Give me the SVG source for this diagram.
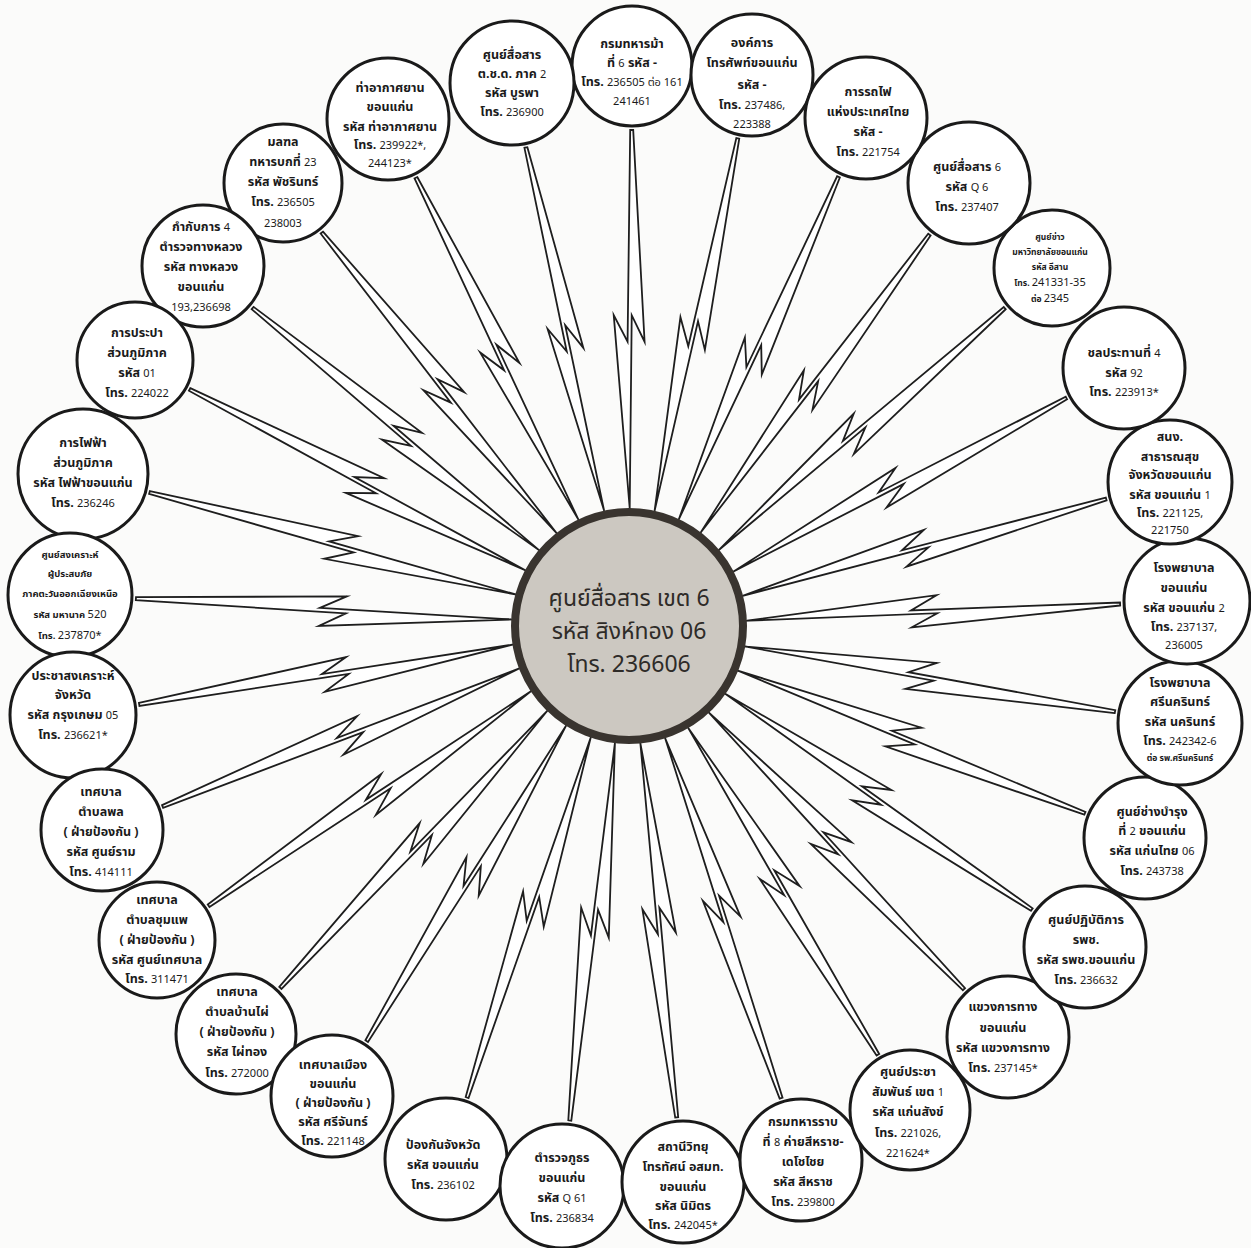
<svg xmlns="http://www.w3.org/2000/svg" xmlns:xlink="http://www.w3.org/1999/xlink" width="1251" height="1248" viewBox="0 0 1251 1248">
<style>
.bg{fill:#fbfbfa}
.bolt{fill:#fff;stroke:#1e1e1e;stroke-width:1.8;stroke-linejoin:miter;stroke-miterlimit:30;vector-effect:non-scaling-stroke}
.node circle{fill:#fff;stroke:#1a1a1a;stroke-width:3}
text{font-family:"Noto Sans Thai","Tlwg Typo","Loma","Garuda","DejaVu Sans","Noto Sans",sans-serif;font-size:12.5px;font-weight:bold;text-anchor:middle;fill:#1a1a1a}
.n{font-size:11px;font-weight:normal}
.s{font-size:9.5px}
.xs{font-size:8.5px}
.hub circle{fill:#ccc8c1;stroke:#39342f;stroke-width:8}
.hub text{font-size:23px;font-weight:normal;fill:#2e2b28}
</style>
<defs>
<path id="bolt" class="bolt" d="M0,-1.5 L0.56,-14 L0.49,-1 L1,0 L0.49,17 L0.56,3 L0,1.5 Z"/>
</defs>
<rect class="bg" x="0" y="0" width="1251" height="1248"/>
<g id="connectors">
<use xlink:href="#bolt" transform="matrix(-2 378 -1 -0.005 631.7 130)"/>
<use xlink:href="#bolt" transform="matrix(-83.2 372.4 -0.9759 -0.2179 737.8 138.4)"/>
<use xlink:href="#bolt" transform="matrix(78.2 363.1 -0.9775 0.2106 525.9 147.5)"/>
<use xlink:href="#bolt" transform="matrix(162.4 341.7 -0.9031 0.4293 415.9 177.7)"/>
<use xlink:href="#bolt" transform="matrix(234.6 300.3 -0.7881 0.6155 321.8 232.6)"/>
<use xlink:href="#bolt" transform="matrix(286.2 241.9 -0.6455 0.7638 252.6 308)"/>
<use xlink:href="#bolt" transform="matrix(335.5 180.7 -0.4741 0.8804 189.6 389.4)"/>
<use xlink:href="#bolt" transform="matrix(365.9 101.9 -0.2682 0.9633 149.5 492.5)"/>
<use xlink:href="#bolt" transform="matrix(375.3 20.8 -0.0554 0.9984 135.9 598.7)"/>
<use xlink:href="#bolt" transform="matrix(373.3 -59.8 0.1581 0.9874 139.2 704.4)"/>
<use xlink:href="#bolt" transform="matrix(356.3 -137.9 0.361 0.9326 162.6 806.5)"/>
<use xlink:href="#bolt" transform="matrix(322.1 -214.3 0.5539 0.8326 208.6 905.7)"/>
<use xlink:href="#bolt" transform="matrix(266.7 -276.9 0.7202 0.6937 280.4 987.9)"/>
<use xlink:href="#bolt" transform="matrix(199.3 -315.3 0.8453 0.5342 366.7 1041.1)"/>
<use xlink:href="#bolt" transform="matrix(123.6 -359.9 0.9459 0.3248 467.1 1097.5)"/>
<use xlink:href="#bolt" transform="matrix(45.1 -377.3 0.9929 0.1188 569.8 1120.5)"/>
<use xlink:href="#bolt" transform="matrix(-36.3 -373.8 0.9953 -0.0967 676.7 1117.3)"/>
<use xlink:href="#bolt" transform="matrix(-115.9 -359.8 0.9519 -0.3066 781.1 1098.1)"/>
<use xlink:href="#bolt" transform="matrix(-189.6 -326.6 0.8648 -0.5021 877.9 1054.7)"/>
<use xlink:href="#bolt" transform="matrix(-255 -276.5 0.7351 -0.6779 963.9 989.2)"/>
<use xlink:href="#bolt" transform="matrix(-306.4 -215.7 0.5756 -0.8177 1031.8 909.6)"/>
<use xlink:href="#bolt" transform="matrix(-346.7 -142.5 0.38 -0.9249 1084.9 813.3)"/>
<use xlink:href="#bolt" transform="matrix(-369.8 -65.1 0.1734 -0.9848 1115 711.6)"/>
<use xlink:href="#bolt" transform="matrix(-373.2 16.7 -0.0448 -0.9989 1120.1 604)"/>
<use xlink:href="#bolt" transform="matrix(-363.2 96.7 -0.2572 -0.9664 1106.2 499)"/>
<use xlink:href="#bolt" transform="matrix(-332.7 173.4 -0.4622 -0.8868 1066.4 398)"/>
<use xlink:href="#bolt" transform="matrix(-285.6 241.7 -0.646 -0.7633 1004.7 308.1)"/>
<use xlink:href="#bolt" transform="matrix(-228.6 297.8 -0.7933 -0.6089 929.4 234.6)"/>
<use xlink:href="#bolt" transform="matrix(-159.6 342.2 -0.9062 -0.4228 838.5 176.9)"/>
</g>

<g id="hub" class="hub">
<circle cx="629" cy="626" r="114"/>
<text x="629" y="606">ศูนย์สื่อสาร เขต 6</text>
<text x="629" y="639">รหัส สิงห์ทอง 06</text>
<text x="629" y="672">โทร. 236606</text>
</g>

<g id="n01" class="node"><circle cx="632" cy="66" r="60"/>
<text x="632" y="48">กรมทหารม้า</text>
<text x="632" y="67">ที่ <tspan class="n">6</tspan>  รหัส -</text>
<text x="632" y="86">โทร. <tspan class="n">236505 ต่อ 161</tspan></text>
<text x="632" y="105" class="n">241461</text></g>

<g id="n02" class="node"><circle cx="752" cy="75" r="61"/>
<text x="752" y="47">องค์การ</text>
<text x="752" y="67">โทรศัพท์ขอนแก่น</text>
<text x="752" y="89">รหัส -</text>
<text x="752" y="109">โทร. <tspan class="n">237486,</tspan></text>
<text x="752" y="128" class="n">223388</text></g>

<g id="n03" class="node"><circle cx="512" cy="83" r="62"/>
<text x="512" y="59">ศูนย์สื่อสาร</text>
<text x="512" y="78">ต.ช.ด. ภาค <tspan class="n">2</tspan></text>
<text x="512" y="97">รหัส บูรพา</text>
<text x="512" y="116">โทร. <tspan class="n">236900</tspan></text></g>

<g id="n04" class="node"><circle cx="388" cy="119" r="61"/>
<text x="390" y="92">ท่าอากาศยาน</text>
<text x="390" y="111">ขอนแก่น</text>
<text x="390" y="131">รหัส ท่าอากาศยาน</text>
<text x="390" y="149">โทร. <tspan class="n">239922*,</tspan></text>
<text x="390" y="167" class="n">244123*</text></g>

<g id="n05" class="node"><circle cx="283" cy="183" r="59"/>
<text x="283" y="146">มลฑล</text>
<text x="283" y="166">ทหารบกที่ <tspan class="n">23</tspan></text>
<text x="283" y="186">รหัส  พัชรินทร์</text>
<text x="283" y="206">โทร. <tspan class="n">236505</tspan></text>
<text x="283" y="227" class="n">238003</text></g>

<g id="n06" class="node"><circle cx="203" cy="266" r="61"/>
<text x="201" y="231">กำกับการ <tspan class="n">4</tspan></text>
<text x="201" y="251">ตำรวจทางหลวง</text>
<text x="201" y="271">รหัส ทางหลวง</text>
<text x="201" y="291">ขอนแก่น</text>
<text x="201" y="311" class="n">193,236698</text></g>

<g id="n07" class="node"><circle cx="135" cy="360" r="58"/>
<text x="137" y="337">การประปา</text>
<text x="137" y="357">ส่วนภูมิภาค</text>
<text x="137" y="377">รหัส <tspan class="n">01</tspan></text>
<text x="137" y="397">โทร. <tspan class="n">224022</tspan></text></g>

<g id="n08" class="node"><circle cx="83" cy="474" r="65"/>
<text x="83" y="447">การไฟฟ้า</text>
<text x="83" y="467">ส่วนภูมิภาค</text>
<text x="83" y="487">รหัส ไฟฟ้าขอนแก่น</text>
<text x="83" y="507">โทร. <tspan class="n">236246</tspan></text></g>

<g id="n09" class="node"><circle cx="70" cy="595" r="62"/>
<text x="70" y="558" class="s">ศูนย์สงเคราะห์</text>
<text x="70" y="577" class="s">ผู้ประสบภัย</text>
<text x="70" y="597" class="s">ภาคตะวันออกเฉียงเหนือ</text>
<text x="70" y="618" class="s">รหัส มหานาค <tspan class="n" font-size="9.5">520</tspan></text>
<text x="70" y="639" class="s">โทร. <tspan class="n" font-size="9.5">237870*</tspan></text></g>

<g id="n10" class="node"><circle cx="73" cy="715" r="63"/>
<text x="73" y="680">ประชาสงเคราะห์</text>
<text x="73" y="699">จังหวัด</text>
<text x="73" y="719">รหัส กรุงเกษม <tspan class="n">05</tspan></text>
<text x="73" y="739">โทร. <tspan class="n">236621*</tspan></text></g>

<g id="n11" class="node"><circle cx="102" cy="830" r="61"/>
<text x="101" y="796">เทศบาล</text>
<text x="101" y="816">ตำบลพล</text>
<text x="101" y="836">( ฝ่ายป้องกัน )</text>
<text x="101" y="856">รหัส ศูนย์ราม</text>
<text x="101" y="876">โทร. <tspan class="n">414111</tspan></text></g>

<g id="n12" class="node"><circle cx="157" cy="940" r="58"/>
<text x="157" y="904">เทศบาล</text>
<text x="157" y="924">ตำบลชุมแพ</text>
<text x="157" y="944">( ฝ่ายป้องกัน )</text>
<text x="157" y="964">รหัส ศูนย์เทศบาล</text>
<text x="157" y="983">โทร. <tspan class="n">311471</tspan></text></g>

<g id="n13" class="node"><circle cx="236" cy="1034" r="60"/>
<text x="237" y="996">เทศบาล</text>
<text x="237" y="1016">ตำบลบ้านไผ่</text>
<text x="237" y="1036">( ฝ่ายป้องกัน )</text>
<text x="237" y="1056">รหัส ไผ่ทอง</text>
<text x="237" y="1077">โทร. <tspan class="n">272000</tspan></text></g>

<g id="n14" class="node"><circle cx="332" cy="1096" r="61"/>
<text x="333" y="1069">เทศบาลเมือง</text>
<text x="333" y="1088">ขอนแก่น</text>
<text x="333" y="1107">( ฝ่ายป้องกัน )</text>
<text x="333" y="1126">รหัส ศรีจันทร์</text>
<text x="333" y="1145">โทร. <tspan class="n">221148</tspan></text></g>

<g id="n15" class="node"><circle cx="446" cy="1159" r="61"/>
<text x="443" y="1149">ป้องกันจังหวัด</text>
<text x="443" y="1169">รหัส ขอนแก่น</text>
<text x="443" y="1189">โทร. <tspan class="n">236102</tspan></text></g>

<g id="n16" class="node"><circle cx="562" cy="1186" r="62"/>
<text x="562" y="1162">ตำรวจภูธร</text>
<text x="562" y="1182">ขอนแก่น</text>
<text x="562" y="1202">รหัส <tspan class="n">Q 61</tspan></text>
<text x="562" y="1222">โทร. <tspan class="n">236834</tspan></text></g>

<g id="n17" class="node"><circle cx="683" cy="1182" r="61"/>
<text x="683" y="1151">สถานีวิทยุ</text>
<text x="683" y="1171">โทรทัศน์ อสมท.</text>
<text x="683" y="1191">ขอนแก่น</text>
<text x="683" y="1210">รหัส นิมิตร</text>
<text x="683" y="1229">โทร. <tspan class="n">242045*</tspan></text></g>

<g id="n18" class="node"><circle cx="801" cy="1160" r="61"/>
<text x="803" y="1126">กรมทหารราบ</text>
<text x="803" y="1146">ที่ <tspan class="n">8</tspan> ค่ายสีหราช-</text>
<text x="803" y="1166">เดโชไชย</text>
<text x="803" y="1186">รหัส สีหราช</text>
<text x="803" y="1206">โทร. <tspan class="n">239800</tspan></text></g>

<g id="n19" class="node"><circle cx="910" cy="1110" r="60"/>
<text x="908" y="1076">ศูนย์ประชา</text>
<text x="908" y="1096">สัมพันธ์ เขต <tspan class="n">1</tspan></text>
<text x="908" y="1116">รหัส แก่นสังข์</text>
<text x="908" y="1137">โทร. <tspan class="n">221026,</tspan></text>
<text x="908" y="1157" class="n">221624*</text></g>

<g id="n20" class="node"><circle cx="1008" cy="1037" r="61"/>
<text x="1003" y="1011">แขวงการทาง</text>
<text x="1003" y="1032">ขอนแก่น</text>
<text x="1003" y="1052">รหัส แขวงการทาง</text>
<text x="1003" y="1072">โทร. <tspan class="n">237145*</tspan></text></g>

<g id="n21" class="node"><circle cx="1085" cy="947" r="61"/>
<text x="1086" y="924">ศูนย์ปฏิบัติการ</text>
<text x="1086" y="944">รพช.</text>
<text x="1086" y="964">รหัส รพช.ขอนแก่น</text>
<text x="1086" y="984">โทร. <tspan class="n">236632</tspan></text></g>

<g id="n22" class="node"><circle cx="1145" cy="838" r="61"/>
<text x="1152" y="816">ศูนย์ช่างบำรุง</text>
<text x="1152" y="835">ที่ <tspan class="n">2</tspan> ขอนแก่น</text>
<text x="1152" y="855">รหัส แก่นไทย <tspan class="n">06</tspan></text>
<text x="1152" y="875">โทร. <tspan class="n">243738</tspan></text></g>

<g id="n23" class="node"><circle cx="1180" cy="723" r="62"/>
<text x="1180" y="687">โรงพยาบาล</text>
<text x="1180" y="706">ศรีนครินทร์</text>
<text x="1180" y="726">รหัส นครินทร์</text>
<text x="1180" y="745">โทร. <tspan class="n">242342-6</tspan></text>
<text x="1180" y="761" class="xs">ต่อ รพ.ศรีนครินทร์</text></g>

<g id="n24" class="node"><circle cx="1187" cy="601" r="63"/>
<text x="1184" y="572">โรงพยาบาล</text>
<text x="1184" y="592">ขอนแก่น</text>
<text x="1184" y="612">รหัส ขอนแก่น <tspan class="n">2</tspan></text>
<text x="1184" y="631">โทร. <tspan class="n">237137,</tspan></text>
<text x="1184" y="649" class="n">236005</text></g>

<g id="n25" class="node"><circle cx="1170" cy="482" r="62"/>
<text x="1170" y="441">สนง.</text>
<text x="1170" y="461">สาธารณสุข</text>
<text x="1170" y="479">จังหวัดขอนแก่น</text>
<text x="1170" y="499">รหัส ขอนแก่น <tspan class="n">1</tspan></text>
<text x="1170" y="517">โทร. <tspan class="n">221125,</tspan></text>
<text x="1170" y="534" class="n">221750</text></g>

<g id="n26" class="node"><circle cx="1124" cy="368" r="61"/>
<text x="1124" y="357">ชลประทานที่ <tspan class="n">4</tspan></text>
<text x="1124" y="377">รหัส <tspan class="n">92</tspan></text>
<text x="1124" y="396">โทร. <tspan class="n">223913*</tspan></text></g>

<g id="n27" class="node"><circle cx="1052" cy="268" r="58"/>
<text x="1050" y="240" class="xs">ศูนย์ข่าว</text>
<text x="1050" y="255" class="xs">มหาวิทยาลัยขอนแก่น</text>
<text x="1050" y="270" class="xs">รหัส อีสาน</text>
<text x="1050" y="286" class="xs">โทร. <tspan class="n" font-size="8.5">241331-35</tspan></text>
<text x="1050" y="302" class="xs">ต่อ <tspan class="n" font-size="8.5">2345</tspan></text></g>

<g id="n28" class="node"><circle cx="969" cy="183" r="61"/>
<text x="967" y="171">ศูนย์สื่อสาร <tspan class="n">6</tspan></text>
<text x="967" y="191">รหัส <tspan class="n">Q 6</tspan></text>
<text x="967" y="211">โทร. <tspan class="n">237407</tspan></text></g>

<g id="n29" class="node"><circle cx="866" cy="118" r="61"/>
<text x="868" y="96">การรถไฟ</text>
<text x="868" y="116">แห่งประเทศไทย</text>
<text x="868" y="136">รหัส -</text>
<text x="868" y="156">โทร. <tspan class="n">221754</tspan></text></g>
</svg>
